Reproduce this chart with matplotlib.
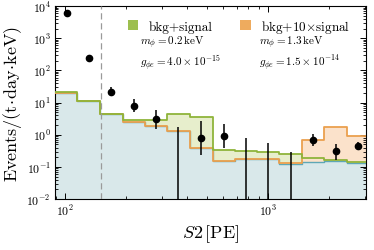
import numpy as np
import matplotlib
matplotlib.use("Agg")
import matplotlib.pyplot as plt
from matplotlib.patches import Patch
from matplotlib.ticker import LogLocator, NullFormatter

plt.rcParams['font.family'] = ['cmr10', 'DejaVu Serif']
plt.rcParams['mathtext.fontset'] = 'cm'
plt.rcParams['axes.formatter.use_mathtext'] = True
plt.rcParams['axes.unicode_minus'] = False

# binning in S2 [PE]
bin_edges = [89, 114, 149, 192, 248, 319, 410, 532, 688, 885, 1137, 1466, 1892, 2443, 3150]

# expected rates per bin
bkg = [20.5, 10.8, 4.4, 2.55, 1.84, 1.34, 0.39, 0.157, 0.173, 0.18, 0.125, 0.146, 0.15, 0.13]
bkg_sig = [20.9, 11.0, 4.45, 2.88, 2.94, 4.43, 3.66, 0.337, 0.307, 0.28, 0.248, 0.19, 0.169, 0.14]
bkg_10sig = [20.5, 10.8, 4.4, 2.55, 1.84, 1.34, 0.39, 0.157, 0.173, 0.18, 0.135, 0.705, 1.71, 0.94]

# observed data (0 = empty bin, only upper error shown)
data_x = [102, 131, 168, 219, 281, 361, 468, 603, 776, 1003, 1294, 1671, 2153, 2786]
data_y = [5900, 238, 21.8, 8.0, 3.03, 0, 0.80, 0.94, 0, 0, 0, 0.705, 0.307, 0.46]
data_lo = [5800, 226, 16, 5.0, 1.5, 0, 0.236, 0.38, 0, 0, 0, 0.46, 0.169, 0.34]
data_hi = [6000, 250, 30, 12.9, 6.0, 1.71, 2.74, 2.16, 0.8, 0.556, 0.286, 1.06, 0.52, 0.61]

threshold = 150

c_bkg_fill = '#d9e8ea'
c_bkg_line = '#5ea7b6'
c_green = '#8fb43a'
c_green_fill = '#e7eecc'
c_orange = '#eba04e'
c_orange_fill = '#fbe2cb'

fig = plt.figure(figsize=(3.74, 2.51), dpi=100)
ax = fig.add_axes([0.147, 0.203, 0.832, 0.769])

edges = np.array(bin_edges)
def stepped(v):
    return np.append(v, v[-1])

floor = 1e-3
ax.fill_between(edges, floor, stepped(bkg), step='post', color=c_bkg_fill, lw=0, zorder=1)
ax.fill_between(edges, stepped(bkg), stepped(bkg_sig), step='post', color=c_green_fill, lw=0, zorder=1)
ax.fill_between(edges, stepped(bkg), stepped(bkg_10sig), step='post', color=c_orange_fill, lw=0, zorder=1)
ax.step(edges, stepped(bkg), where='post', color=c_bkg_line, lw=1.0, zorder=2)
ax.step(edges, stepped(bkg_10sig), where='post', color=c_orange, lw=1.3, zorder=3)
ax.step(edges, stepped(bkg_sig), where='post', color=c_green, lw=1.3, zorder=4)

ax.axvline(threshold, color='#9a9a9a', ls=(0, (5, 3)), lw=0.9, zorder=5)

x = np.array(data_x)
y = np.array(data_y)
lo = np.maximum(np.array(data_lo), floor)
hi = np.array(data_hi)
ax.vlines(x, lo, hi, color='black', lw=1.1, zorder=6)
m = y > 0
ax.plot(x[m], y[m], 'o', color='black', ms=4.5, zorder=7)

ax.set_xscale('log')
ax.set_yscale('log')
ax.set_xlim(89, 3040)
ax.set_ylim(1e-2, 1e4)
ax.yaxis.set_major_locator(LogLocator(base=10, numticks=10))
ax.yaxis.set_minor_locator(LogLocator(base=10, subs=np.arange(2, 10), numticks=20))
ax.yaxis.set_minor_formatter(NullFormatter())
ax.xaxis.set_minor_formatter(NullFormatter())
ax.tick_params(which='both', direction='in', top=True, right=True, labelsize=8.5, pad=3)
ax.tick_params(which='major', length=4, width=0.7)
ax.tick_params(which='minor', length=2, width=0.6)
for s in ax.spines.values():
    s.set_linewidth(0.8)

ax.set_xlabel(r'$S2\,[\mathrm{PE}]$', fontsize=13, labelpad=3)
ax.set_ylabel(r'$\mathrm{Events}/(\mathrm{t}\!\cdot\!\mathrm{day}\!\cdot\!\mathrm{keV})$', fontsize=13, labelpad=2)

handles = [Patch(facecolor='#9dbf4f', edgecolor='none'), Patch(facecolor='#eeab5e', edgecolor='none')]
labels = ['bkg+signal', r'bkg+10$\times$signal']
ax.legend(handles, labels, loc='upper left', bbox_to_anchor=(0.195, 1.0), ncol=2, frameon=False,
          fontsize=9.5, handlelength=0.8, handleheight=0.8, handletextpad=0.8, columnspacing=2.1)

ax.text(0.273, 0.813, r'$m_\phi = 0.2\,\mathrm{keV}$', transform=ax.transAxes, fontsize=8, va='center')
ax.text(0.273, 0.71, r'$g_{\phi e} = 4.0 \times 10^{-15}$', transform=ax.transAxes, fontsize=8, va='center')
ax.text(0.656, 0.813, r'$m_\phi = 1.3\,\mathrm{keV}$', transform=ax.transAxes, fontsize=8, va='center')
ax.text(0.656, 0.71, r'$g_{\phi e} = 1.5 \times 10^{-14}$', transform=ax.transAxes, fontsize=8, va='center')

fig.savefig('out.png', dpi=100)
